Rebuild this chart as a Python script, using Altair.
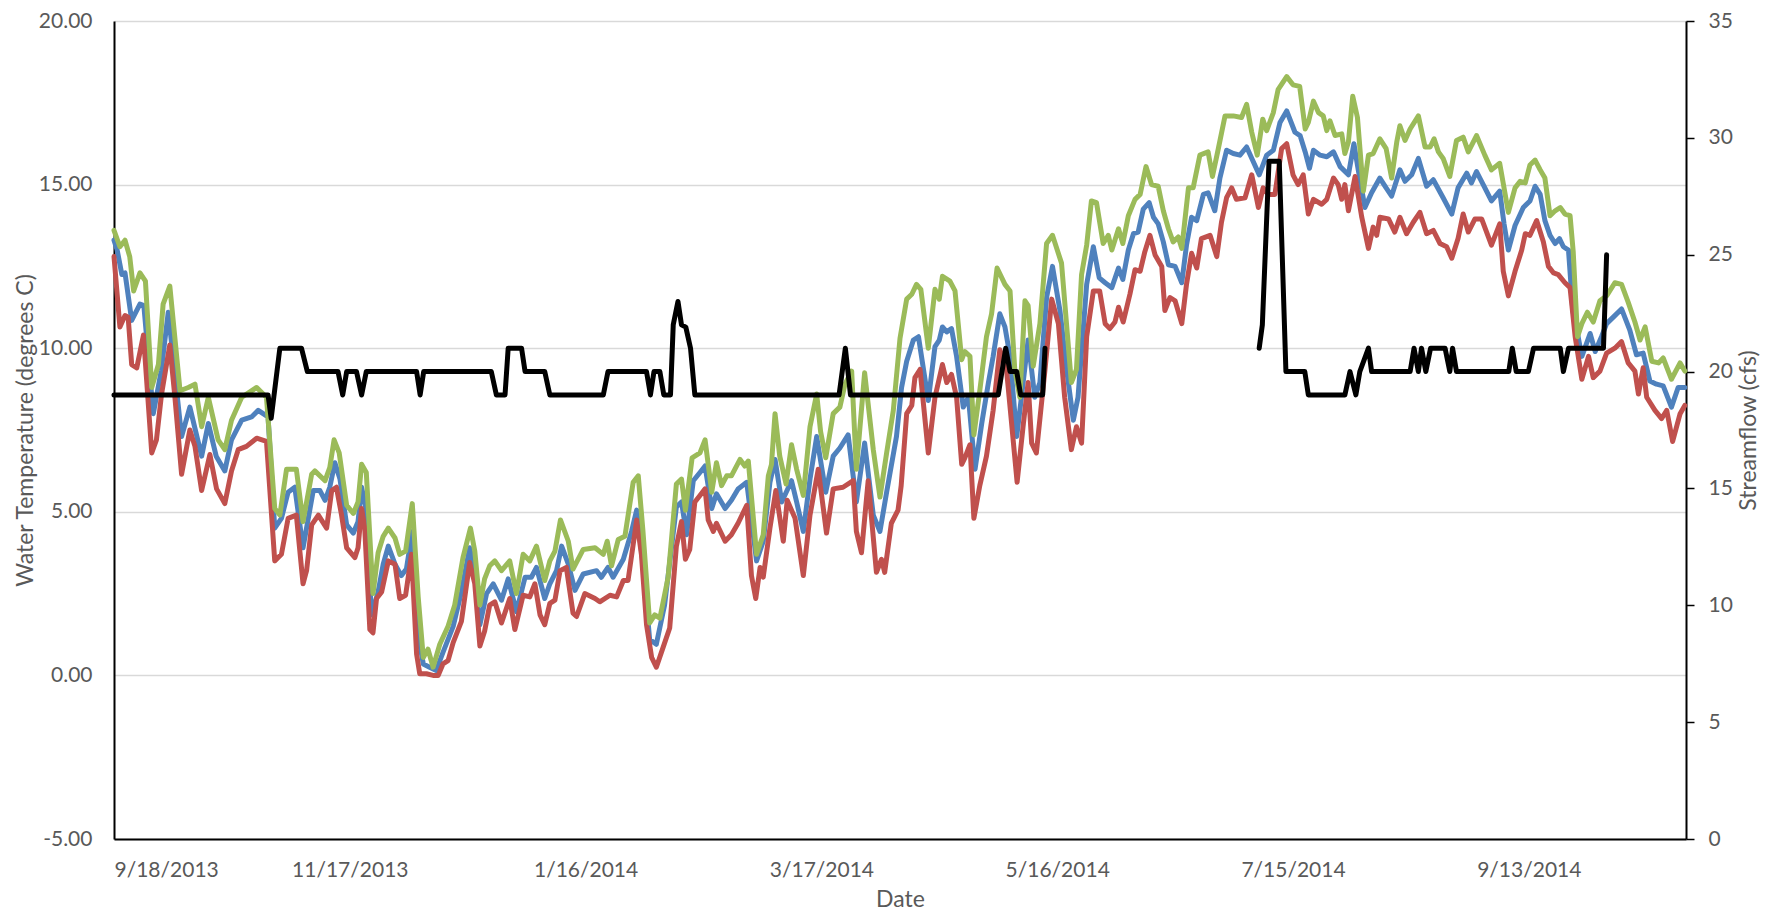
import altair as alt
import pandas as pd

# ---- x axis (days since 9/18/2013) ----
x_tick_days = [0, 60, 120, 180, 240, 300, 360]
x_tick_labels = ["9/18/2013", "11/17/2013", "1/16/2014", "3/17/2014",
                 "5/16/2014", "7/15/2014", "9/13/2014"]

# ---- Max water temperature (green) ----
max_days = [0, 1.5, 2.8, 4, 5, 6.6, 8, 9.6, 11.3, 12.5, 14.2, 16.8, 18.9, 20.6, 22.3, 24, 26.5, 28.2, 29.9, 32.5,
            36.3, 38.8, 40.9, 42.2, 43.9, 46.4, 48.1,
            50.3, 51.1, 53.7, 54.9, 56, 57.3, 59.2, 60.9, 62.1, 63, 64.2, 65.9, 67.2, 68.5, 69.8, 71.5, 72.7, 74.2,
            75.9, 77.4, 78.7, 79.9, 81.2, 82.9, 85, 86.7, 88.8, 90.7, 91.8, 93.1, 94.3, 95.6, 96.9, 98.6,
            100.7, 102.4, 104.1, 105.8, 107.5, 109.6, 110.9, 112.2, 113.6, 115.6, 116.8, 119.4, 122.4, 124.5, 125.5,
            126.6, 128.3, 130, 132.1, 133.4, 134.6, 136.3, 137.6, 138.9, 141, 143.1, 144.4, 145.4, 147.1,
            149.1, 150.4, 152.1, 153.3, 154.6, 155.9, 157.1, 159.3, 160.5, 161.4, 163.5, 165.2, 166.5, 167.3, 168.2,
            169.4, 171, 172.4, 173.7, 175.4, 177.1, 178.8, 179.8, 181.1, 183, 184.7, 186, 187.7, 188.9, 191, 193.2,
            194.9, 196.6, 198.3,
            200, 201.7, 203, 204.2, 205.3, 207.2, 208.9, 210, 210.8, 212.7, 214, 215.7, 216.5, 217.8, 218.8, 220.3,
            222, 223.3, 224.7, 226.7, 228, 229.2, 230.5, 231.8, 232.6, 233.9, 235.6, 237.3, 238.8, 241.1, 243.6,
            244.9, 246.2, 247.5, 248.7, 250,
            251.7, 253, 253.9, 255.6, 256.7, 258.1, 259.8, 261.1, 262.6, 264, 265.7, 267, 268.3, 269.5, 270.8, 271.7,
            273.4, 274.6, 276.3, 278.4, 279.5, 281, 282.7, 284.8, 286.9, 288.2, 289.5, 290.9, 292.3, 293.3, 295,
            296.2, 298.4, 300,
            301.7, 303.1, 303.9, 305.2, 306.5, 307.7, 308.6, 309.4, 310.7, 312.4, 313.2, 314.1, 315.2, 316.4, 317.9,
            319.2, 320.4, 322.1, 323.7, 325.1, 326.4, 327.2, 328.5, 329.8, 331.9, 333.6, 334.9, 335.9, 337, 338.2,
            339.9, 341.6, 343.3, 344.6, 346.7, 348.8, 350.5, 352.6,
            354.8, 356.5, 357.8, 359.1, 360.3, 361.6, 362.9, 364.1, 365.4, 366.7, 368, 369.2, 370.5, 371.3, 372.4,
            373.5, 374.9, 376.4, 378.1, 379.8, 381.9, 383.6, 385.3, 387, 388.3, 389.6, 391.3, 393, 394.2, 396.3,
            398.5, 399.7]
max_temp = [13.6, 13.1, 13.3, 12.8, 11.75, 12.3, 12.05, 8.8, 9.5, 11.35, 11.9, 8.7, 8.8, 8.9, 7.6, 8.5, 7.2, 6.9, 7.8, 8.5,
            8.8, 8.5, 5.1, 4.9, 6.3, 6.3, 4.7,
            6.15, 6.25, 5.95, 6.35, 7.2, 6.8, 5.2, 4.95, 5.3, 6.45, 6.2, 2.5, 3.75, 4.25, 4.5, 4.2, 3.7, 3.8,
            5.25, 2.4, 0.55, 0.8, 0.25, 0.95, 1.5, 2.15, 3.6, 4.5, 3.8, 2.15, 2.95, 3.35, 3.5, 3.2,
            3.5, 2.5, 3.7, 3.5, 3.95, 2.9, 3.5, 3.8, 4.75, 4.1, 3.25, 3.85, 3.9, 3.7, 4.1,
            3.35, 4.15, 4.25, 5.9, 6.1, 4.4, 1.6, 1.85, 1.75, 3.0, 5.85, 6.0, 5.05, 6.65,
            6.8, 7.2, 5.6, 6.5, 5.8, 6.1, 6.1, 6.6, 6.4, 6.55, 3.7, 4.3, 6.1, 6.45, 8.0,
            6.7, 5.85, 7.05, 6.3, 5.5, 7.6, 8.6, 7.45, 6.65, 8.0, 8.2, 8.9, 9.3, 6.3, 9.25, 6.9,
            5.45, 6.8, 8.1,
            10.3, 11.5, 11.65, 11.95, 11.8, 10.0, 11.8, 11.5, 12.2, 12.05, 11.75, 9.65, 9.9, 9.75, 7.35, 8.7,
            10.35, 11.05, 12.45, 11.95, 11.75, 9.35, 8.5, 11.45, 11.3, 9.45, 10.75, 13.2, 13.45, 12.6, 8.95,
            9.35, 12.25, 13.15, 14.5, 14.45,
            13.2, 13.45, 13.0, 13.65, 13.2, 14.05, 14.55, 14.7, 15.55, 15.0, 14.95, 14.2, 13.65, 13.25, 13.4, 13.05,
            14.9, 14.9, 15.9, 16.0, 15.25, 16.1, 17.1, 17.1, 17.05, 17.45, 16.6, 15.9, 17.0, 16.65, 17.2,
            17.9, 18.3, 18.05,
            18.0, 16.7, 16.9, 17.55, 17.2, 17.1, 16.65, 16.95, 16.5, 16.55, 15.95, 16.3, 17.7, 17.05, 14.8,
            15.9, 15.95, 16.4, 16.1, 15.2, 16.3, 16.8, 16.35, 16.7, 17.1, 16.15, 16.15, 16.4, 16.0, 15.8,
            15.25, 16.35, 16.45, 16.0, 16.5, 15.9, 15.45, 15.65,
            14.15, 14.9, 15.1, 15.05, 15.6, 15.75, 15.45, 15.2, 14.05, 14.2, 14.3, 14.1, 14.05, 12.95, 10.35,
            10.75, 11.1, 10.8, 11.45, 11.6, 12.0, 11.95, 11.4, 10.8, 10.25, 10.65, 9.6, 9.55, 9.7, 9.05,
            9.55, 9.3]

# ---- Mean water temperature (blue) ----
mean_days = [0, 0.8, 2, 2.8, 4.5, 6.6, 7.6, 10, 12, 13.8, 17.2, 19.3, 22.3, 24, 26, 28.2, 29.9, 32.5, 35, 36.7, 39.2,
             40.9, 42.6, 44.3, 46, 48.1,
             50.7, 52.4, 53.7, 54.9, 56.2, 57.5, 59.2, 60.9, 62.1, 63, 64.2, 65.5, 67.2, 68.5, 69.8, 71.5, 73.1, 74.4,
             75.9, 77.4, 78.7, 80.3, 82, 83.7, 86.3, 88.4, 90.5, 91.8, 93.1, 94.8, 96.5, 98.6,
             100.3, 102.4, 104.6, 106.2, 107.5, 109.6, 110.9, 112.6, 113.9, 115.6, 117.3, 119.4, 122.8, 124, 125.7,
             127, 129.6, 131.7, 133, 134.6, 136.3, 138, 140.1, 143.1, 144.4, 145.7, 147.4,
             149.1, 150.4, 152.1, 153.3, 155.5, 157.1, 158.8, 161, 163.5, 165.2, 166.9, 168.2, 169.9, 172.4, 173.7,
             175.4, 177.1, 178.8, 181.1, 183, 184.7, 186.8, 188.9, 191, 193.2, 194.9, 196.6, 199.1,
             200.4, 201.7, 203.4, 204.7, 207.2, 208.9, 210, 210.8, 211.9, 213.1, 214.4, 216.1, 217.4, 219.1, 220.8,
             222.5, 223.7, 225.4, 226.7, 228, 229.7, 230.9, 232.6, 234.3, 235.6, 237.3, 238.8, 240.7, 242.4, 244.1,
             245.3, 247.5, 249.2, 250.7,
             252.2, 253.9, 255.6, 256.7, 258.1, 259.4, 260.6, 261.9, 263.4, 264.5, 265.7, 267, 268.3, 270, 271.7,
             272.9, 274.2, 275.5, 277.2, 278.4, 280.1, 281.4, 283.1, 284.8, 286.5, 288.2, 289.9, 291.4, 293.3, 295,
             296.7, 298.4, 300.5,
             301.8, 303.1, 304.2, 305.2, 306.9, 308.6, 310.3, 312, 314.1, 315.5, 316.6, 318.3, 320, 322.1, 323.7,
             325.1, 327.2, 328.5, 330.2, 331.9, 334, 335.7, 338.2, 340.4, 342, 344.2, 345.4, 346.7, 348.4, 350.5,
             352.6,
             353.7, 354.8, 356.5, 358.6, 360.3, 361.6, 362.9, 364.1, 365.4, 366.7, 367.8, 368.8, 370.1, 371.2, 372.4,
             373.5, 374.7, 375.6, 376.9, 378.5, 379.8, 381.5, 383.6, 385.7, 387.4, 389.1, 390.8, 392.5, 394.2, 396.3,
             398, 399.7]
mean_temp = [13.3, 13.0, 12.25, 12.3, 10.85, 11.35, 11.3, 8.0, 9.3, 11.1, 7.3, 8.2, 6.7, 7.7, 6.7, 6.25, 7.2, 7.8, 7.9, 8.1, 7.9,
             4.5, 4.8, 5.6, 5.75, 3.9,
             5.65, 5.65, 5.35, 5.75, 6.5, 6.0, 4.6, 4.35, 4.7, 5.75, 5.05, 1.85, 2.55, 3.4, 3.95, 3.4, 3.05, 3.25,
             4.4, 1.25, 0.35, 0.25, 0.15, 0.7, 1.5, 2.55, 3.9, 3.1, 1.55, 2.5, 2.8, 2.3,
             2.95, 1.95, 3.0, 3.0, 3.3, 2.35, 2.8, 3.2, 3.95, 3.4, 2.6, 3.1, 3.2, 3.0, 3.3,
             3.0, 3.55, 4.4, 5.05, 3.4, 1.1, 0.95, 2.15, 5.15, 5.3, 4.3, 5.95,
             6.2, 6.4, 5.1, 5.55, 5.1, 5.35, 5.7, 5.9, 3.5, 4.1, 5.9, 6.6, 5.3, 5.95, 5.3,
             4.4, 6.0, 7.3, 5.6, 6.7, 6.95, 7.35, 5.3, 7.1, 4.9, 4.4, 5.6, 7.3,
             8.8, 9.6, 10.25, 10.35, 8.4, 10.05, 10.25, 10.65, 10.5, 10.6, 9.75, 8.2, 8.5, 6.3, 7.7,
             8.95, 9.75, 11.05, 10.65, 9.75, 7.3, 8.5, 10.25, 8.5, 8.95, 11.55, 12.5, 11.15, 9.35, 7.8,
             8.5, 11.95, 13.1, 12.15,
             12.0, 11.85, 12.45, 12.1, 13.0, 13.5, 13.55, 14.25, 14.45, 14.0, 13.8, 13.25, 12.55, 12.5, 12.0,
             13.15, 14.0, 13.9, 14.7, 14.75, 14.2, 15.2, 16.05, 15.95, 15.9, 16.15, 15.7, 15.3, 15.9, 16.05,
             16.9, 17.25, 16.6,
             16.5, 16.0, 15.5, 16.05, 15.9, 15.85, 16.0, 15.55, 15.3, 16.25, 15.45, 14.3, 14.75, 15.2, 14.9,
             14.65, 15.45, 15.1, 15.3, 15.8, 14.95, 15.15, 14.6, 14.1, 14.9, 15.35, 15.05, 15.4, 15.0, 14.5,
             14.8,
             13.8, 13.0, 13.75, 14.3, 14.5, 14.95, 14.7, 13.9, 13.45, 13.2, 13.35, 13.1, 13.0, 11.15, 10.45,
             9.75, 10.15, 10.45, 9.9, 10.35, 10.75, 10.95, 11.2, 10.55, 9.8, 9.85, 9.0, 8.9, 8.85, 8.2,
             8.8, 8.8]

# ---- Min water temperature (red) ----
min_days = [0, 1.5, 2.8, 3.6, 4.5, 5.8, 7.5, 9.6, 10.8, 12.1, 14.2, 15.5, 17.2, 19.3, 20.6, 22.3, 24.4, 26.1, 28.2, 29.9,
            31.6, 33.7, 36.3, 38.8, 40.9, 42.6, 44.3, 46.4, 48.1,
            49, 50.3, 52, 54.1, 55.4, 56.6, 57.9, 59.2, 61.3, 62.1, 63, 63.8, 65.1, 65.9, 66.8, 68.1, 69.8, 71.5,
            72.7, 74.2, 75.7, 77, 77.8, 79.5, 81.2, 82.5, 83.7, 85, 86.3, 88.4, 90.5, 91.8, 93.1, 94.3, 95.6, 96.9,
            98.6,
            100.7, 102, 104.1, 105.8, 107.1, 108.4, 109.6, 110.9, 112.2, 113.5, 115.1, 116.8, 117.7, 119.8, 122.4,
            123.6, 126.2, 127.9, 129.6, 130.8, 133, 134.2, 135.5, 136.8, 138, 139.7, 141.4, 143.1, 144.4, 145.4,
            146.5, 147.8,
            149.1, 150.4, 151.2, 152.5, 153.3, 155.5, 157.1, 158.8, 161, 162.2, 163.3, 164.4, 165.2, 166.9, 168.4,
            170.3, 171.3, 173.3, 175.4, 177.1, 179.2, 181.3, 183, 185.5, 188.1, 188.9, 190.2, 191.9, 194, 195.3,
            196.1, 197.8, 199.5,
            200.3, 201.7, 203, 203.8, 205.1, 207.2, 208.9, 210.8, 211.9, 213.1, 214.4, 215.7, 216.5, 217.8, 218.8,
            220.3, 222, 223.7, 225.4, 227.1, 228.4, 229.8, 231.4, 232.6, 233.5, 234.7, 236.9, 238.6, 240.3, 241.9,
            243.6, 244.9, 246.2, 247.5, 249.2, 250.8,
            252.2, 253.4, 254.7, 255.6, 256.8, 258.5, 259.8, 261.1, 262.3, 263.6, 264.9, 266.6, 267.4, 268.7, 270,
            271.7, 272.9, 274.2, 275.5, 276.7, 278.9, 280.6, 281.8, 283.1, 284.4, 285.6, 287.8, 289.5, 291.2, 292.4,
            293.7, 295.4, 297.1, 298.4, 300, 301.3,
            302.6, 303.9, 305.2, 307.3, 308.6, 310.3, 311.5, 312.4, 313.2, 314.1, 315.8, 317.5, 319.2, 320.4, 321.3,
            322.1, 324.3, 325.9, 327.2, 328.9, 330.6, 332.3, 334, 335.7, 337.4, 339.1, 340.4, 342, 343.3, 344.6,
            346.3, 348, 350.5, 352.6,
            353.5, 354.8, 356.5, 358.2, 359.1, 360.3, 362, 363.7, 365, 366.3, 367.5, 369.2, 370.5, 371.8, 373.5,
            375.2, 376.4, 378.1, 379.8, 381.9, 383.6, 385.3, 387, 387.9, 389.1, 390, 392.1, 393.8, 395.1, 396.6,
            398.5, 399.7]
min_temp = [12.8, 10.65, 11.0, 10.95, 9.5, 9.4, 10.4, 6.8, 7.2, 8.6, 10.1, 8.5, 6.15, 7.5, 7.0, 5.65, 6.75, 5.7, 5.25, 6.25,
            6.9, 7.0, 7.25, 7.15, 3.5, 3.7, 4.8, 4.9, 2.8,
            3.2, 4.6, 4.9, 4.5, 5.65, 5.75, 4.9, 3.9, 3.6, 3.9, 5.1, 4.5, 1.4, 1.3, 2.35, 2.55, 3.5, 3.4,
            2.35, 2.45, 3.7, 0.65, 0.05, 0.05, 0.0, 0.0, 0.35, 0.45, 1.0, 1.65, 3.45, 2.8, 0.9, 1.35, 2.15, 2.25,
            1.6,
            2.35, 1.4, 2.45, 2.4, 2.8, 1.85, 1.55, 2.2, 2.3, 3.2, 3.3, 1.9, 1.8, 2.5, 2.35,
            2.25, 2.45, 2.4, 2.9, 2.9, 4.75, 3.7, 1.55, 0.55, 0.25, 0.85, 1.45, 3.95, 4.7, 3.55,
            3.85, 5.3,
            5.5, 5.7, 4.75, 4.4, 4.65, 4.1, 4.3, 4.65, 5.2, 3.05, 2.35, 3.3, 3.0, 4.5, 5.65,
            4.1, 5.35, 4.8, 3.05, 4.9, 6.3, 4.35, 5.7, 5.75, 5.95, 4.4, 3.75, 5.95, 3.15, 3.55,
            3.15, 4.65, 5.05,
            5.8, 8.0, 8.25, 9.1, 9.35, 6.8, 8.5, 9.5, 8.95, 9.2, 8.5, 6.45, 6.65, 7.05, 4.8,
            5.8, 6.7, 8.1, 9.95, 9.35, 7.7, 5.9, 7.7, 8.95, 7.1, 6.8, 9.35, 11.5, 10.75, 8.5,
            6.9, 7.6, 7.1, 10.35, 11.75, 11.75,
            10.75, 10.6, 10.8, 11.25, 10.8, 11.65, 12.4, 12.35, 12.95, 13.45, 12.85, 12.5, 11.15, 11.55, 11.45,
            10.75, 11.95, 12.9, 12.45, 13.35, 13.45, 12.8, 13.85, 14.6, 14.9, 14.55, 14.6, 15.3, 14.3, 14.9,
            14.7, 14.7, 16.1, 16.25, 15.3, 15.0,
            15.3, 14.1, 14.55, 14.4, 14.55, 15.2, 15.0, 14.55, 15.0, 14.2, 15.25, 14.0, 13.05, 13.7, 13.45,
            14.0, 13.95, 13.55, 14.0, 13.5, 13.85, 14.15, 13.5, 13.6, 13.2, 13.1, 12.75, 13.35, 14.1, 13.55,
            13.95, 13.95, 13.15, 13.8,
            12.35, 11.6, 12.35, 13.0, 13.5, 13.45, 13.9, 13.25, 12.5, 12.3, 12.25, 12.0, 11.85, 10.35, 9.05,
            9.75, 9.1, 9.3, 9.85, 10.0, 10.2, 9.55, 9.3, 8.6, 9.4, 8.5, 8.1, 7.85, 8.1, 7.15,
            8.0, 8.25]

# ---- Streamflow (black), two recorded periods ----
flow1_days = [0, 39.2, 40, 42.2, 47.7, 49.2, 57, 58.2, 59.2, 61.7, 63, 64.2, 77, 77.9, 78.8, 96, 97.3, 99.5,
              100.3, 103.7, 104.6, 109.6, 110.9, 124.5, 125.7, 135.5, 136.5, 137.4, 138.9, 139.9, 141.6, 142.3,
              143.5, 144.4, 145.5, 146.7, 147.8, 184.5, 186.1, 187.4, 225, 226.9, 228, 229.7, 230.7, 236.3, 236.9]
flow1_cfs = [19, 19, 18, 21, 21, 20, 20, 19, 20, 20, 19, 20, 20, 19, 20, 20, 19, 19,
             21, 21, 20, 20, 19, 19, 20, 20, 19, 20, 20, 19, 19, 22,
             23, 22, 21.9, 21, 19, 19, 21, 19, 19, 21, 20, 20, 19, 19, 21]
flow2_days = [291.4, 292.2, 293.9, 296.5, 298.2, 303, 303.9, 313.2, 314.5, 316, 317, 319.2, 320, 329.8, 330.8,
              331.9, 332.7, 333.8, 335, 338.7, 339.9, 340.6, 341.6, 354.9, 355.8, 356.8, 359.9, 361.2, 368, 368.8,
              370.1, 379, 379.8]
flow2_cfs = [21, 22, 29, 29, 20, 20, 19, 19, 20, 19, 20, 21, 20, 20, 21,
             20, 21, 20, 21, 21, 20, 21, 20, 20, 21, 20, 20, 21, 21, 20,
             21, 21, 25]

# ---- build tables ----
max_df = pd.DataFrame({"day": max_days, "temp": max_temp})
mean_df = pd.DataFrame({"day": mean_days, "temp": mean_temp})
min_df = pd.DataFrame({"day": min_days, "temp": min_temp})
flow_df = pd.concat([
    pd.DataFrame({"day": flow1_days, "cfs": flow1_cfs, "seg": 1}),
    pd.DataFrame({"day": flow2_days, "cfs": flow2_cfs, "seg": 2}),
], ignore_index=True)

FONT = "Lato"
GREY = "#595959"
LABEL_SIZE = 21
TITLE_SIZE = 23
PLOT_H = 818
label_arr = "[" + ",".join("'" + s + "'" for s in x_tick_labels) + "]"

x_enc = alt.X(
    "day:Q",
    scale=alt.Scale(domain=[0, 400], nice=False, zero=False),
    axis=alt.Axis(
        values=x_tick_days, labelExpr=label_arr + "[round(datum.value / 60)]",
        title="Date", ticks=False, tickSize=0, grid=False, domainColor="black", domainWidth=2,
        labelPadding=20, labelFontSize=LABEL_SIZE, titleFontSize=TITLE_SIZE, titleFontWeight="normal",
        titleY=60, titleBaseline="middle", labelColor=GREY, titleColor=GREY,
        labelFont=FONT, titleFont=FONT,
    ),
)

y_temp = alt.Y(
    "temp:Q",
    scale=alt.Scale(domain=[-5, 20], nice=False, zero=False),
    axis=alt.Axis(
        values=[-5, 0, 5, 10, 15, 20],
        labelExpr="(datum.value < 0 ? '-' : '') + format(abs(datum.value), '.2f')",
        title="Water Temperature (degrees C)", ticks=False, tickSize=0, grid=True,
        gridColor="#d9d9d9", gridWidth=1.5, domainColor="black", domainWidth=2,
        labelPadding=22, labelFontSize=LABEL_SIZE, titleFontSize=TITLE_SIZE, titleFontWeight="normal",
        titleX=-89, titleY=PLOT_H / 2, titleAngle=270, titleBaseline="middle", titleAlign="center",
        labelColor=GREY, titleColor=GREY, labelFont=FONT, titleFont=FONT,
    ),
)

line_kw = dict(strokeWidth=5, strokeJoin="round", strokeCap="round")

mean_line = alt.Chart(mean_df).mark_line(color="#4F81BD", **line_kw).encode(x=x_enc, y=y_temp)
min_line = alt.Chart(min_df).mark_line(color="#C0504D", **line_kw).encode(x=x_enc, y=y_temp)
max_line = alt.Chart(max_df).mark_line(color="#9BBB59", **line_kw).encode(x=x_enc, y=y_temp)

temps = alt.layer(mean_line, min_line, max_line)

flow_line = alt.Chart(flow_df).mark_line(color="black", **line_kw).encode(
    x=x_enc,
    y=alt.Y(
        "cfs:Q",
        scale=alt.Scale(domain=[0, 35], nice=False, zero=False),
        axis=alt.Axis(
            orient="right", values=[0, 5, 10, 15, 20, 25, 30, 35], format="d",
            title="Streamflow (cfs)", ticks=True, tickSize=8, tickColor="black", tickWidth=1.5,
            grid=False, domainColor="black", domainWidth=2,
            labelPadding=14, labelFontSize=LABEL_SIZE, titleFontSize=TITLE_SIZE, titleFontWeight="normal",
            titleX=62, titleY=PLOT_H / 2, titleAngle=270, titleBaseline="middle", titleAlign="center",
            labelColor=GREY, titleColor=GREY, labelFont=FONT, titleFont=FONT,
        ),
    ),
    detail="seg:N",
)

chart = (
    alt.layer(temps, flow_line)
    .resolve_scale(y="independent")
    .properties(
        width=1572, height=PLOT_H,
        padding={"left": 106, "top": 13, "right": 76, "bottom": 74},
        autosize=alt.AutoSizeParams(type="none"),
        background="white",
    )
    .configure_view(stroke=None)
)

chart.save("out.html", embed_options={"renderer": "svg", "actions": False})
